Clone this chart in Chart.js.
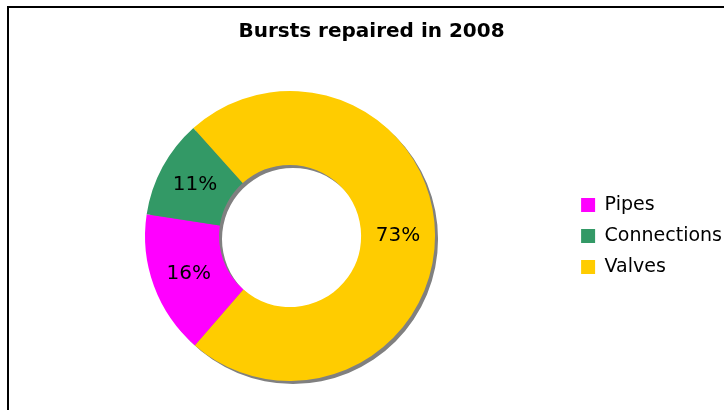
<!DOCTYPE html>
<html>
<head>
<meta charset="utf-8">
<script src="https://cdn.jsdelivr.net/npm/chart.js@4"></script>
<style>
  html, body { margin: 0; padding: 0; background: #fff; }
  #wrap { position: relative; width: 724px; height: 410px; overflow: hidden; }
  #frame { position: absolute; left: 7px; top: 6px; width: 760px; height: 460px; border: 2px solid #000; box-sizing: border-box; pointer-events: none; }
  canvas { position: absolute; left: 0; top: 0; }
</style>
</head>
<body>
<div id="wrap">
  <canvas id="burstChart" width="724" height="410"></canvas>
  <div id="frame"></div>
</div>
<script>
// DATA
const categories = ['Pipes', 'Connections', 'Valves'];
const shares = [16, 11, 73];
const colours = ['#ff00ff', '#339966', '#ffcc00'];

const FONT = "'DejaVu Sans', Verdana, sans-serif";

// gray drop shadow under the ring
const ringShadow = {
  id: 'ringShadow',
  beforeDatasetsDraw(chart) {
    const arc = chart.getDatasetMeta(0).data[0];
    if (!arc) return;
    const { x, y, outerRadius, innerRadius } = arc.getProps(['x', 'y', 'outerRadius', 'innerRadius'], true);
    const ctx = chart.ctx;
    ctx.save();
    ctx.fillStyle = '#808080';
    ctx.beginPath();
    ctx.arc(x + 3, y + 3, outerRadius, 0, Math.PI * 2);
    ctx.arc(x + 3, y + 3, innerRadius, 0, Math.PI * 2, true);
    ctx.fill();
    ctx.restore();
  }
};

// percentage labels inside the slices
const sliceLabels = {
  id: 'sliceLabels',
  afterDatasetsDraw(chart, args, opts) {
    const ctx = chart.ctx;
    const meta = chart.getDatasetMeta(0);
    const total = shares.reduce((a, b) => a + b, 0);
    ctx.save();
    ctx.font = '20px ' + FONT;
    ctx.fillStyle = '#000';
    ctx.textAlign = 'center';
    ctx.textBaseline = 'middle';
    meta.data.forEach((arc, i) => {
      const p = arc.getProps(['x', 'y', 'startAngle', 'endAngle', 'innerRadius', 'outerRadius'], true);
      let ang = (p.startAngle + p.endAngle) / 2;
      if (opts.angles && opts.angles[i] !== undefined) ang = opts.angles[i] * Math.PI / 180;
      const r = (p.innerRadius + p.outerRadius) / 2;
      const txt = Math.round(shares[i] / total * 100) + '%';
      ctx.fillText(txt, p.x + Math.cos(ang) * r, p.y + Math.sin(ang) * r);
    });
    ctx.restore();
  }
};

new Chart(document.getElementById('burstChart'), {
  type: 'doughnut',
  data: {
    labels: categories,
    datasets: [{
      data: shares,
      backgroundColor: colours,
      borderWidth: 0,
      hoverOffset: 0
    }]
  },
  options: {
    responsive: false,
    animation: false,
    cutout: '49%',
    rotation: 221,
    layout: { padding: { left: 11, right: -8, top: 0, bottom: 29 } },
    plugins: {
      title: {
        display: true,
        text: 'Bursts repaired in 2008',
        color: '#000',
        font: { family: FONT, size: 20, weight: 'bold' },
        padding: { top: 20, bottom: 47 }
      },
      legend: {
        position: 'right',
        align: 'center',
        fullSize: false,
        labels: {
          color: '#000',
          font: { family: FONT, size: 19 },
          boxWidth: 14,
          boxHeight: 14,
          padding: 12
        }
      },
      tooltip: { enabled: false },
      sliceLabels: { angles: { 2: 0 } }
    }
  },
  plugins: [ringShadow, sliceLabels]
});
</script>
</body>
</html>
